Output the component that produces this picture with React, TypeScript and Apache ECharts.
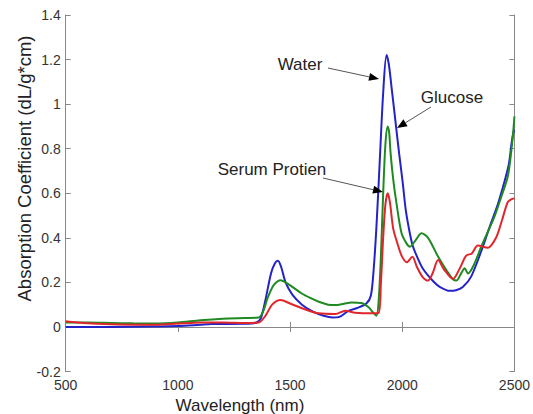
import React, { useEffect, useRef } from "react";
import * as echarts from "echarts";

const xTicks = [500, 1000, 1500, 2000, 2500];
const yTicks = [-0.2, 0, 0.2, 0.4, 0.6, 0.8, 1, 1.2, 1.4];

const waterWl = [500, 700, 900, 1000, 1100, 1150, 1300, 1350, 1370, 1390, 1415, 1432, 1446, 1460, 1480, 1510, 1553, 1600, 1650, 1690, 1720, 1760, 1800, 1840, 1860, 1872, 1885, 1900, 1915, 1930, 1940, 1953, 1970, 1986, 2003, 2015, 2030, 2045, 2064, 2093, 2138, 2167, 2212, 2240, 2271, 2307, 2352, 2390, 2426, 2455, 2475, 2488, 2496, 2500];
const waterAbs = [0.0, 0.0, 0.002, 0.004, 0.01, 0.013, 0.014, 0.02, 0.04, 0.12, 0.24, 0.285, 0.297, 0.27, 0.2, 0.145, 0.1, 0.07, 0.05, 0.042, 0.045, 0.072, 0.085, 0.105, 0.14, 0.25, 0.45, 0.75, 1.05, 1.22, 1.18, 1.07, 0.92, 0.78, 0.64, 0.53, 0.44, 0.37, 0.32, 0.26, 0.205, 0.18, 0.162, 0.165, 0.18, 0.226, 0.34, 0.45, 0.55, 0.65, 0.73, 0.83, 0.875, 0.885];

const glucoseWl = [500, 600, 700, 800, 900, 1000, 1100, 1200, 1300, 1360, 1380, 1400, 1425, 1445, 1458, 1480, 1510, 1552, 1590, 1628, 1670, 1702, 1740, 1774, 1818, 1850, 1870, 1885, 1895, 1905, 1915, 1925, 1935, 1942, 1948, 1960, 1975, 1997, 2019, 2034, 2060, 2086, 2115, 2160, 2200, 2225, 2241, 2265, 2278, 2293, 2320, 2352, 2411, 2440, 2470, 2485, 2495, 2500];
const glucoseAbs = [0.02, 0.02, 0.018, 0.016, 0.015, 0.02, 0.03, 0.037, 0.04, 0.042, 0.07, 0.13, 0.185, 0.205, 0.21, 0.2, 0.18, 0.15, 0.13, 0.113, 0.1, 0.098, 0.104, 0.11, 0.107, 0.088, 0.065, 0.05, 0.12, 0.32, 0.6, 0.82, 0.9, 0.87, 0.78, 0.66, 0.55, 0.42, 0.375, 0.36, 0.39, 0.42, 0.4, 0.315, 0.25, 0.215, 0.208, 0.245, 0.263, 0.24, 0.28, 0.36, 0.495, 0.58, 0.674, 0.78, 0.88, 0.945];

const proteinWl = [500, 550, 700, 900, 1000, 1100, 1200, 1300, 1360, 1390, 1420, 1458, 1500, 1553, 1628, 1702, 1746, 1790, 1863, 1894, 1905, 1915, 1925, 1935, 1945, 1960, 1980, 1997, 2020, 2045, 2065, 2090, 2115, 2135, 2160, 2185, 2226, 2255, 2285, 2310, 2337, 2381, 2418, 2445, 2470, 2485, 2500];
const proteinAbs = [0.025, 0.02, 0.012, 0.01, 0.015, 0.02, 0.02, 0.018, 0.02, 0.05, 0.1, 0.121, 0.105, 0.084, 0.061, 0.058, 0.073, 0.064, 0.061, 0.062, 0.2, 0.4, 0.55, 0.6, 0.56, 0.44, 0.37, 0.32, 0.29, 0.315, 0.27, 0.225, 0.208, 0.24, 0.3, 0.26, 0.216, 0.26, 0.32, 0.33, 0.365, 0.355, 0.4, 0.48, 0.56, 0.572, 0.577];

const seriesNames = ["Water", "Glucose", "Serum Protien"];
const colors = ["#2323c8", "#1f8a22", "#e0262a"];

const FONT = "'Liberation Sans', Arial, Helvetica, sans-serif";

function zip(xs: number[], ys: number[]) {
  return xs.map((x, i) => [x, ys[i]]);
}

function arrow(x1: number, y1: number, x2: number, y2: number) {
  const a = Math.atan2(y2 - y1, x2 - x1);
  const L = 10;
  const W = 4;
  const c = Math.cos(a);
  const s = Math.sin(a);
  const bx = x2 - L * c;
  const by = y2 - L * s;
  return [
    {
      type: "line",
      z: 100,
      shape: { x1, y1, x2: bx, y2: by },
      style: { stroke: "#555", lineWidth: 1 },
    },
    {
      type: "polygon",
      z: 100,
      shape: {
        points: [
          [x2, y2],
          [bx - W * s, by + W * c],
          [bx + W * s, by - W * c],
        ],
      },
      style: { fill: "#000" },
    },
  ];
}

function label(text: string, x: number, y: number, size: number, rotation = 0) {
  return {
    type: "text",
    z: 100,
    x,
    y,
    rotation,
    style: {
      text,
      fill: "#222",
      font: `${size}px ${FONT}`,
      textAlign: "center",
      textVerticalAlign: "middle",
    },
  };
}

export default function App() {
  const ref = useRef<HTMLDivElement>(null);
  useEffect(() => {
    if (!ref.current) return;
    const chart = echarts.init(ref.current, null, { renderer: "svg" });
    const axisLine = { show: true, lineStyle: { color: "#888", width: 1 } };
    const axisTick = { show: true, inside: true, length: 5, lineStyle: { color: "#888" } };
    const xBase = {
      type: "value",
      min: xTicks[0],
      max: xTicks[xTicks.length - 1],
      interval: 500,
      axisLine,
      axisTick,
      splitLine: { show: false },
    };
    const yBase = {
      type: "value",
      min: yTicks[0],
      max: yTicks[yTicks.length - 1],
      interval: 0.2,
      axisLine,
      axisTick,
      splitLine: { show: false },
    };
    const mk = (name: string, xs: number[], ys: number[], color: string) => ({
      name,
      type: "line",
      data: zip(xs, ys),
      showSymbol: false,
      smooth: 0.3,
      lineStyle: { color, width: 2 },
      itemStyle: { color },
    });
    chart.setOption({
      animation: false,
      backgroundColor: "#fff",
      grid: { left: 65.7, right: 16.3, top: 15, bottom: 42.5 },
      xAxis: [
        {
          ...xBase,
          position: "bottom",
          axisLabel: {
            color: "#333",
            fontSize: 14,
            fontFamily: FONT,
            margin: 6,
            formatter: (v: number) => String(v),
          },
        },
        { ...xBase, position: "top", axisLabel: { show: false } },
      ],
      yAxis: [
        {
          ...yBase,
          position: "left",
          axisLabel: {
            color: "#333",
            fontSize: 14,
            fontFamily: FONT,
            margin: 5,
            formatter: (v: number) => String(Math.round(v * 10) / 10),
          },
        },
        { ...yBase, position: "right", axisLabel: { show: false } },
      ],
      series: [
        mk(seriesNames[0], waterWl, waterAbs, colors[0]),
        mk(seriesNames[1], glucoseWl, glucoseAbs, colors[1]),
        mk(seriesNames[2], proteinWl, proteinAbs, colors[2]),
      ],
      graphic: [
        label("Wavelength (nm)", 240, 405, 17),
        label("Absorption Coefficient (dL/g*cm)", 24, 168.5, 18.5, Math.PI / 2),
        label("Water", 300, 64, 17),
        label("Glucose", 452, 97, 17),
        label("Serum Protien", 272, 169, 17),
        ...arrow(328, 68, 379, 79),
        ...arrow(431, 107, 397, 128),
        ...arrow(323, 178, 383, 192),
      ],
    });
    return () => chart.dispose();
  }, []);
  return (
    <div
      ref={ref}
      style={{ position: "fixed", left: 0, top: 0, width: 533, height: 414 }}
    />
  );
}
